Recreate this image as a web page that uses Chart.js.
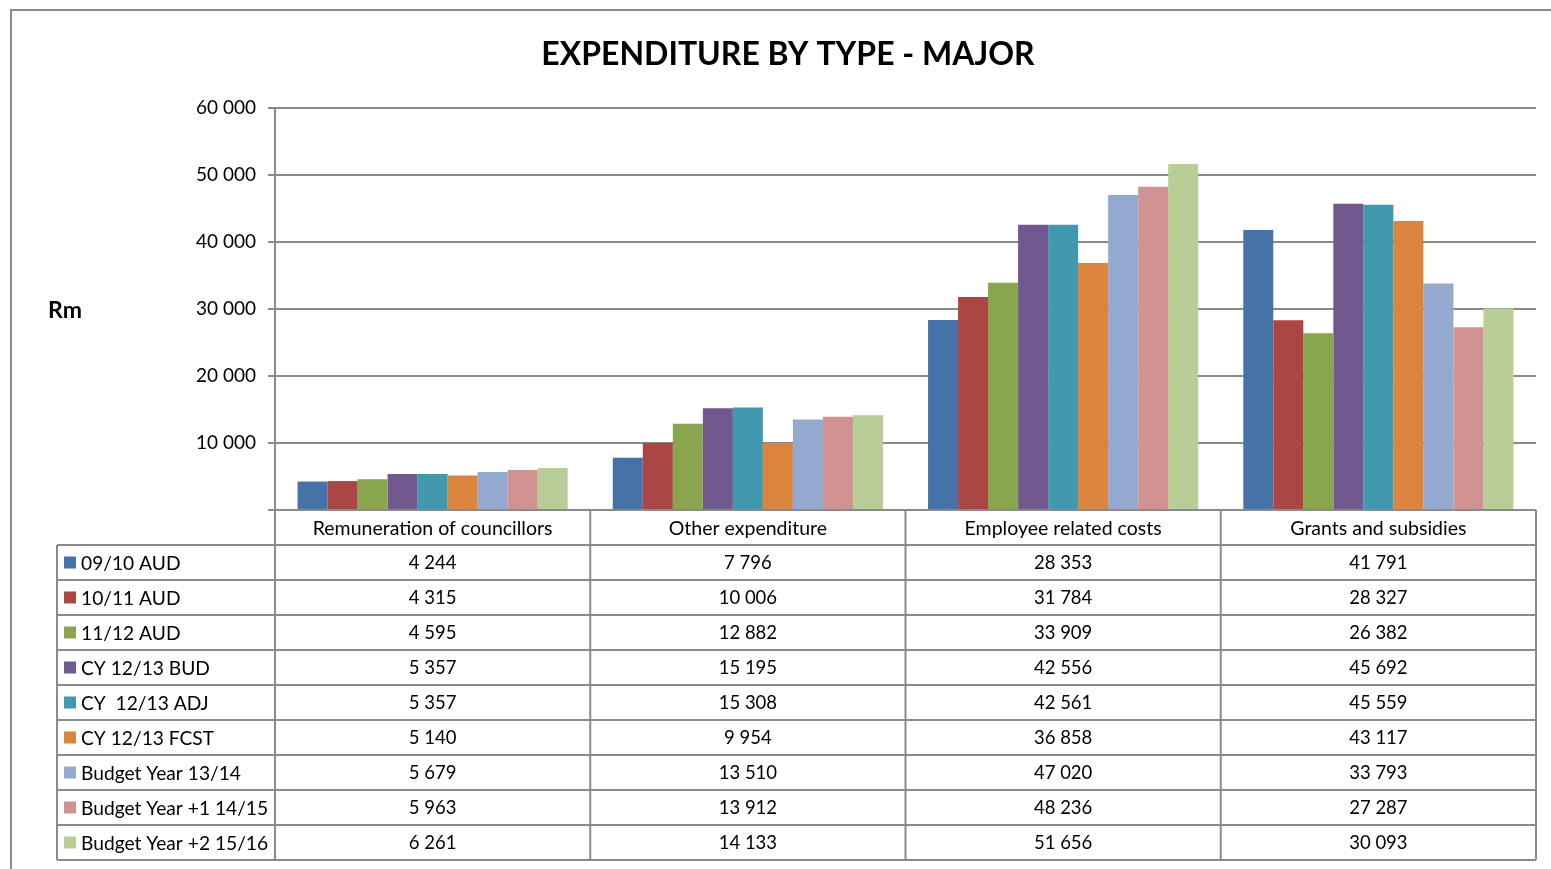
<!DOCTYPE html>
<html>
<head>
<meta charset="utf-8">
<script src="https://cdn.jsdelivr.net/npm/chart.js@4"></script>
<style>
  html, body { margin: 0; padding: 0; background: #fff; }
  #wrap { width: 1551px; height: 869px; }
</style>
</head>
<body>
<div id="wrap"><canvas id="chart_area" width="1551" height="869"></canvas></div>
<script>
// categories along the x axis
const categories = ['Remuneration of councillors', 'Other expenditure', 'Employee related costs', 'Grants and subsidies'];

// one array per series, in category order
const aud0910   = [4244, 7796, 28353, 41791];
const aud1011   = [4315, 10006, 31784, 28327];
const aud1112   = [4595, 12882, 33909, 26382];
const cyBud     = [5357, 15195, 42556, 45692];
const cyAdj     = [5357, 15308, 42561, 45559];
const cyFcst    = [5140, 9954, 36858, 43117];
const budget1   = [5679, 13510, 47020, 33793];
const budget2   = [5963, 13912, 48236, 27287];
const budget3   = [6261, 14133, 51656, 30093];

const seriesNames = ['09/10 AUD', '10/11 AUD', '11/12 AUD', 'CY 12/13 BUD', 'CY  12/13 ADJ', 'CY 12/13 FCST',
                     'Budget Year 13/14', 'Budget Year +1 14/15', 'Budget Year +2 15/16'];
const seriesValues = [aud0910, aud1011, aud1112, cyBud, cyAdj, cyFcst, budget1, budget2, budget3];
const seriesColors = ['#4572A7', '#AA4643', '#89A54E', '#71588F', '#4198AF', '#DB843D', '#93A9CF', '#D19392', '#B9CD96'];

const yTicks = [0, 10000, 20000, 30000, 40000, 50000, 60000];

const FONT = 'Lato, "Open Sans", sans-serif';
const LINE = '#8a8a8a';

function fmt(v) {
  return String(v).replace(/\B(?=(\d{3})+(?!\d))/g, ' ');
}

// draws the frame, title, "Rm" label and the data table under the bars
const tablePlugin = {
  id: 'dataTable',
  afterDraw(chart) {
    const ctx = chart.ctx;
    const area = chart.chartArea;
    const x = chart.scales.x;
    const rowH = 35;
    const legendLeft = 57;
    const top = area.bottom;
    const headBottom = top + rowH;
    const tableBottom = headBottom + rowH * seriesNames.length;
    const half = (area.right - area.left) / categories.length / 2;

    ctx.save();
    // outer frame
    ctx.strokeStyle = LINE;
    ctx.lineWidth = 2;
    ctx.beginPath();
    ctx.moveTo(11, chart.height + 2);
    ctx.lineTo(11, 10);
    ctx.lineTo(chart.width + 2, 10);
    ctx.stroke();

    // title
    ctx.fillStyle = '#000';
    ctx.font = 'bold 32px ' + FONT;
    ctx.textAlign = 'center';
    ctx.textBaseline = 'middle';
    ctx.fillText('EXPENDITURE BY TYPE - MAJOR', 788, 55);

    ctx.font = 'bold 23px ' + FONT;
    ctx.textAlign = 'left';
    ctx.fillText('Rm', 48, 311);

    // table grid
    ctx.lineWidth = 2;
    ctx.strokeStyle = LINE;
    ctx.beginPath();
    for (let r = 0; r <= seriesNames.length; r++) {
      const y = headBottom + r * rowH;
      ctx.moveTo(legendLeft, y);
      ctx.lineTo(area.right, y);
    }
    ctx.moveTo(legendLeft, headBottom);
    ctx.lineTo(legendLeft, tableBottom);
    ctx.moveTo(area.left, top);
    ctx.lineTo(area.left, tableBottom);
    categories.forEach((c, i) => {
      const xr = x.getPixelForValue(i) + half;
      ctx.moveTo(xr, top);
      ctx.lineTo(xr, tableBottom);
    });
    ctx.stroke();

    // header and values
    ctx.fillStyle = '#000';
    ctx.textAlign = 'center';
    categories.forEach((c, i) => {
      const cx = x.getPixelForValue(i);
      ctx.font = '19.5px ' + FONT;
      ctx.fillText(c, cx, top + rowH / 2 + 1);
      ctx.font = '18.5px ' + FONT;
      seriesValues.forEach((vals, s) => {
        ctx.fillText(fmt(vals[i]), cx, headBottom + s * rowH + rowH / 2 + 1);
      });
    });

    // legend keys and series names
    ctx.textAlign = 'left';
    ctx.font = '19.2px ' + FONT;
    seriesNames.forEach((name, s) => {
      const cy = headBottom + s * rowH + rowH / 2;
      ctx.fillStyle = seriesColors[s];
      ctx.fillRect(64, cy - 6, 12, 12);
      ctx.fillStyle = '#000';
      ctx.fillText(name, 81, cy + 1);
    });
    ctx.restore();
  }
};

const ctx = document.getElementById('chart_area').getContext('2d');
const myChart = new Chart(ctx, {
  type: 'bar',
  data: {
    labels: categories,
    datasets: seriesNames.map((name, s) => ({
      label: name,
      data: seriesValues[s],
      backgroundColor: seriesColors[s],
      borderWidth: 0,
      categoryPercentage: 0.857,
      barPercentage: 1.0
    }))
  },
  options: {
    responsive: false,
    animation: false,
    layout: { padding: { top: 108, bottom: 359, left: 0, right: 15 } },
    plugins: {
      legend: { display: false },
      title: { display: false },
      tooltip: { enabled: false }
    },
    scales: {
      x: { display: false },
      y: {
        min: 0,
        max: 60000,
        afterFit(scale) { scale.width = 275; },
        afterBuildTicks(scale) { scale.ticks = yTicks.map(v => ({ value: v })); },
        ticks: {
          padding: 12,
          color: '#000',
          font: { family: FONT, size: 19 },
          callback: v => v === 0 ? '' : fmt(v)
        },
        grid: { color: LINE, lineWidth: 2, tickLength: 7 },
        border: { color: LINE, width: 2 }
      }
    }
  },
  plugins: [tablePlugin]
});
</script>
</body>
</html>
